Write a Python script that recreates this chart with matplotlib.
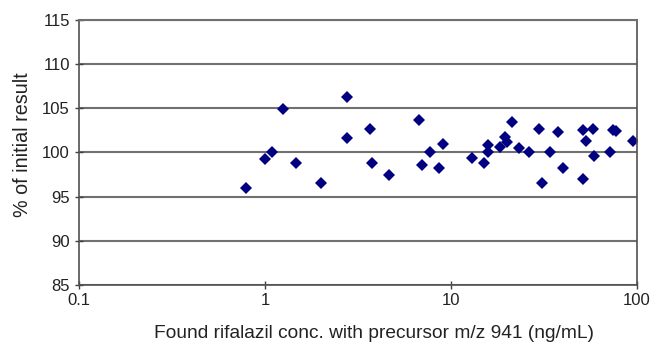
import matplotlib
matplotlib.use("Agg")
import matplotlib.pyplot as plt
from matplotlib.ticker import FixedLocator, NullLocator, FixedFormatter

plt.rcParams['font.family'] = ['Liberation Sans', 'DejaVu Sans']

# found concentration (ng/mL) and % of initial result
conc = [0.79, 1.0, 1.09, 1.25, 1.46, 2.0, 2.75, 2.75, 3.67, 3.75,
        4.62, 6.76, 6.96, 7.74, 8.59, 9.06, 12.97, 15.1, 15.9, 15.9,
        18.3, 19.5, 20.0, 21.4, 23.3, 26.4, 29.7, 30.7, 34.1, 37.8,
        40.2, 51.4, 51.1, 53.2, 57.8, 58.9, 71.8, 74.0, 77.1, 95.5]
pct = [96.0, 99.3, 100.1, 104.9, 98.8, 96.6, 106.3, 101.6, 102.7, 98.8,
       97.5, 103.7, 98.6, 100.1, 98.3, 101.0, 99.4, 98.8, 100.8, 100.1,
       100.6, 101.7, 101.2, 103.4, 100.5, 100.1, 102.7, 96.6, 100.1, 102.3,
       98.2, 102.5, 97.0, 101.3, 102.7, 99.6, 100.0, 102.6, 102.4, 101.3]

xticks = [0.1, 1, 10, 100]
xticklabels = ['0.1', '1', '10', '100']
yticks = [85, 90, 95, 100, 105, 110, 115]

fig = plt.figure(figsize=(6.52, 3.45), dpi=100)
ax = fig.add_axes([0.1212, 0.174, 0.8558, 0.768])

ax.set_xscale('log')
ax.set_xlim(0.1, 100)
ax.set_ylim(85, 115)

ax.yaxis.grid(True, color='#707070', linewidth=1.5)
ax.set_axisbelow(True)

ax.plot(conc, pct, linestyle='none', marker='D', markersize=6,
        color='#000080', markeredgewidth=0)

ax.xaxis.set_major_locator(FixedLocator(xticks))
ax.xaxis.set_major_formatter(FixedFormatter(xticklabels))
ax.xaxis.set_minor_locator(NullLocator())
ax.set_yticks(yticks)

ax.tick_params(axis='both', direction='inout', length=6, width=1,
               color='#404040', labelsize=12, labelcolor='#222222')
ax.tick_params(axis='x', pad=3)

for side in ['left', 'bottom', 'right', 'top']:
    ax.spines[side].set_color('#505050')
    ax.spines[side].set_linewidth(1.2)
ax.spines['top'].set_color('#707070')
ax.spines['top'].set_linewidth(1.5)

ax.set_xlabel('Found rifalazil conc. with precursor m/z 941 (ng/mL)',
              fontsize=13.8, color='#222222')
ax.set_ylabel('% of initial result', fontsize=14.2, color='#222222')
# labels sit a bit off-centre in the original
ax.xaxis.set_label_coords(0.529, -0.152)
ax.yaxis.set_label_coords(-0.085, 0.528)

fig.savefig('out.png', dpi=100)
